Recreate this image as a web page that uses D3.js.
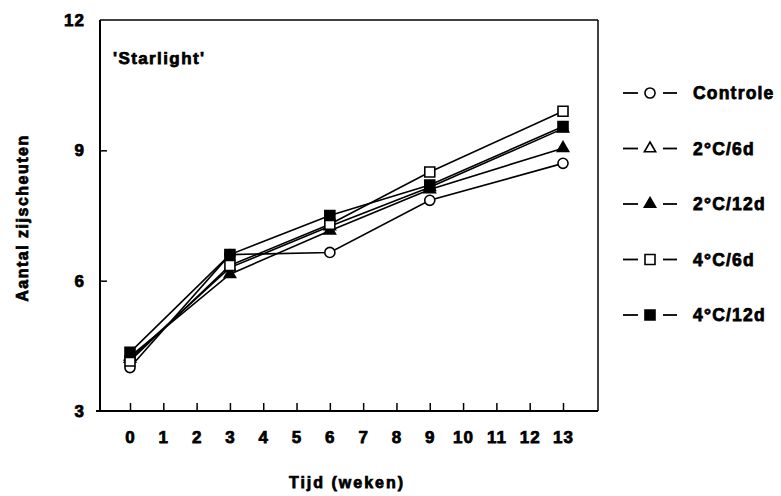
<!DOCTYPE html>
<html>
<head>
<meta charset="utf-8">
<script src="https://cdn.jsdelivr.net/npm/d3@7"></script>
<style>
  html, body { margin: 0; padding: 0; background: #fff; }
  svg { display: block; }
  text { font-family: "Liberation Sans", Arial, Helvetica, sans-serif; font-weight: bold; fill: #000; stroke: #000; stroke-width: 0.75px; }
</style>
</head>
<body>
<svg id="chart" width="781" height="496"></svg>
<script>
// Weeks after treatment
const weeks = [0, 3, 6, 9, 13];
const seriesNames = ["Controle", "2°C/6d", "2°C/12d", "4°C/6d", "4°C/12d"];
// Number of side shoots per treatment
const controle  = [4.0, 6.6, 6.65, 7.85, 8.7];
const c2d6      = [4.2, 6.3, 7.25, 8.15, 9.5];
const c2d12     = [4.25, 6.15, 7.15, 8.1, 9.05];
const c4d6      = [4.15, 6.35, 7.3, 8.5, 9.9];
const c4d12     = [4.35, 6.6, 7.5, 8.2, 9.55];
const xTicks = d3.range(0, 14);
const yTicks = [3, 6, 9, 12];

const series = [
  { name: seriesNames[0], values: controle, shape: d3.symbolCircle,   size: 80, filled: false },
  { name: seriesNames[1], values: c2d6,     shape: d3.symbolTriangle, size: 55, filled: false },
  { name: seriesNames[2], values: c2d12,    shape: d3.symbolTriangle, size: 55, filled: true },
  { name: seriesNames[3], values: c4d6,     shape: d3.symbolSquare,   size: 100, filled: false },
  { name: seriesNames[4], values: c4d12,    shape: d3.symbolSquare,   size: 100, filled: true }
];
// Drawing order so that the most visible markers end up on top
const drawOrder = [1, 0, 2, 3, 4];

const svg = d3.select("#chart");
const frame = { left: 100, right: 598, top: 20, bottom: 411 };

const x = d3.scaleLinear().domain([0, 13]).range([130, 563]);
const y = d3.scaleLinear().domain([3, 12]).range([frame.bottom, frame.top]);

// Plot frame
svg.append("line").attr("x1", frame.left).attr("x2", frame.left).attr("y1", frame.top).attr("y2", frame.bottom + 1)
  .attr("stroke", "#000").attr("stroke-width", 2);
svg.append("line").attr("x1", frame.left - 4).attr("x2", frame.right).attr("y1", frame.bottom).attr("y2", frame.bottom)
  .attr("stroke", "#000").attr("stroke-width", 2);
svg.append("line").attr("x1", frame.left).attr("x2", frame.right).attr("y1", frame.top).attr("y2", frame.top)
  .attr("stroke", "#000").attr("stroke-width", 1.5);
svg.append("line").attr("x1", frame.right).attr("x2", frame.right).attr("y1", frame.top).attr("y2", frame.bottom)
  .attr("stroke", "#000").attr("stroke-width", 1.5);

// Axes with inward ticks
const xAxis = d3.axisBottom(x).tickValues(xTicks).tickSize(-8).tickPadding(22).tickFormat(d3.format("d"));
const gx = svg.append("g").attr("transform", `translate(0,${frame.bottom})`).call(xAxis);
gx.select(".domain").remove();
gx.selectAll(".tick line").attr("stroke", "#000").attr("stroke-width", 1.5);
gx.selectAll(".tick text").attr("font-size", 17).attr("letter-spacing", 1).attr("dy", "0").attr("y", 32)
  .style("font-family", "'Liberation Sans', Arial, sans-serif");

const yAxis = d3.axisLeft(y).tickValues(yTicks).tickSize(-7).tickPadding(15).tickFormat(d3.format("d"));
const gy = svg.append("g").attr("transform", `translate(${frame.left},0)`).call(yAxis);
gy.select(".domain").remove();
gy.selectAll(".tick line").attr("stroke", "#000").attr("stroke-width", 1.5)
  .attr("display", d => (d === 3 || d === 12) ? "none" : null);
gy.selectAll(".tick text").attr("font-size", 17).attr("letter-spacing", 1)
  .style("font-family", "'Liberation Sans', Arial, sans-serif");

// Axis titles
svg.append("text").attr("x", 347).attr("y", 488).attr("text-anchor", "middle")
  .attr("font-size", 16).attr("letter-spacing", 2).text("Tijd (weken)");
svg.append("text").attr("transform", "translate(28,218) rotate(-90)").attr("text-anchor", "middle")
  .attr("font-size", 16).attr("letter-spacing", 1.5).text("Aantal zijscheuten");

// Cultivar label
svg.append("text").attr("x", 113).attr("y", 64).attr("font-size", 17).attr("letter-spacing", 1.4).text("'Starlight'");

// Series lines
const line = d3.line().x((d, i) => x(weeks[i])).y(d => y(d));
drawOrder.forEach(k => {
  svg.append("path").datum(series[k].values).attr("d", line)
    .attr("fill", "none").attr("stroke", "#000").attr("stroke-width", 1.6);
});

// Markers
function marker(sel, s) {
  sel.attr("d", d3.symbol().type(s.shape).size(s.size))
    .attr("fill", s.filled ? "#000" : "#fff")
    .attr("stroke", "#000").attr("stroke-width", 1.6);
}
drawOrder.forEach(k => {
  const s = series[k];
  svg.append("g").selectAll("path").data(s.values).join("path")
    .attr("transform", (d, i) => `translate(${x(weeks[i])},${y(d)})`)
    .call(marker, s);
});

// Legend
const legendY = d3.scaleLinear().domain([0, 4]).range([93, 315]);
series.forEach((s, i) => {
  const g = svg.append("g").attr("transform", `translate(0,${legendY(i)})`);
  g.append("line").attr("x1", 623).attr("x2", 638).attr("stroke", "#000").attr("stroke-width", 1.8);
  g.append("line").attr("x1", 663).attr("x2", 677).attr("stroke", "#000").attr("stroke-width", 1.8);
  g.append("path").attr("transform", "translate(650,0)").call(marker, s);
  g.append("text").attr("x", 693).attr("y", 6).attr("font-size", 17.5).attr("letter-spacing", 1.2).text(s.name);
});
</script>
</body>
</html>
